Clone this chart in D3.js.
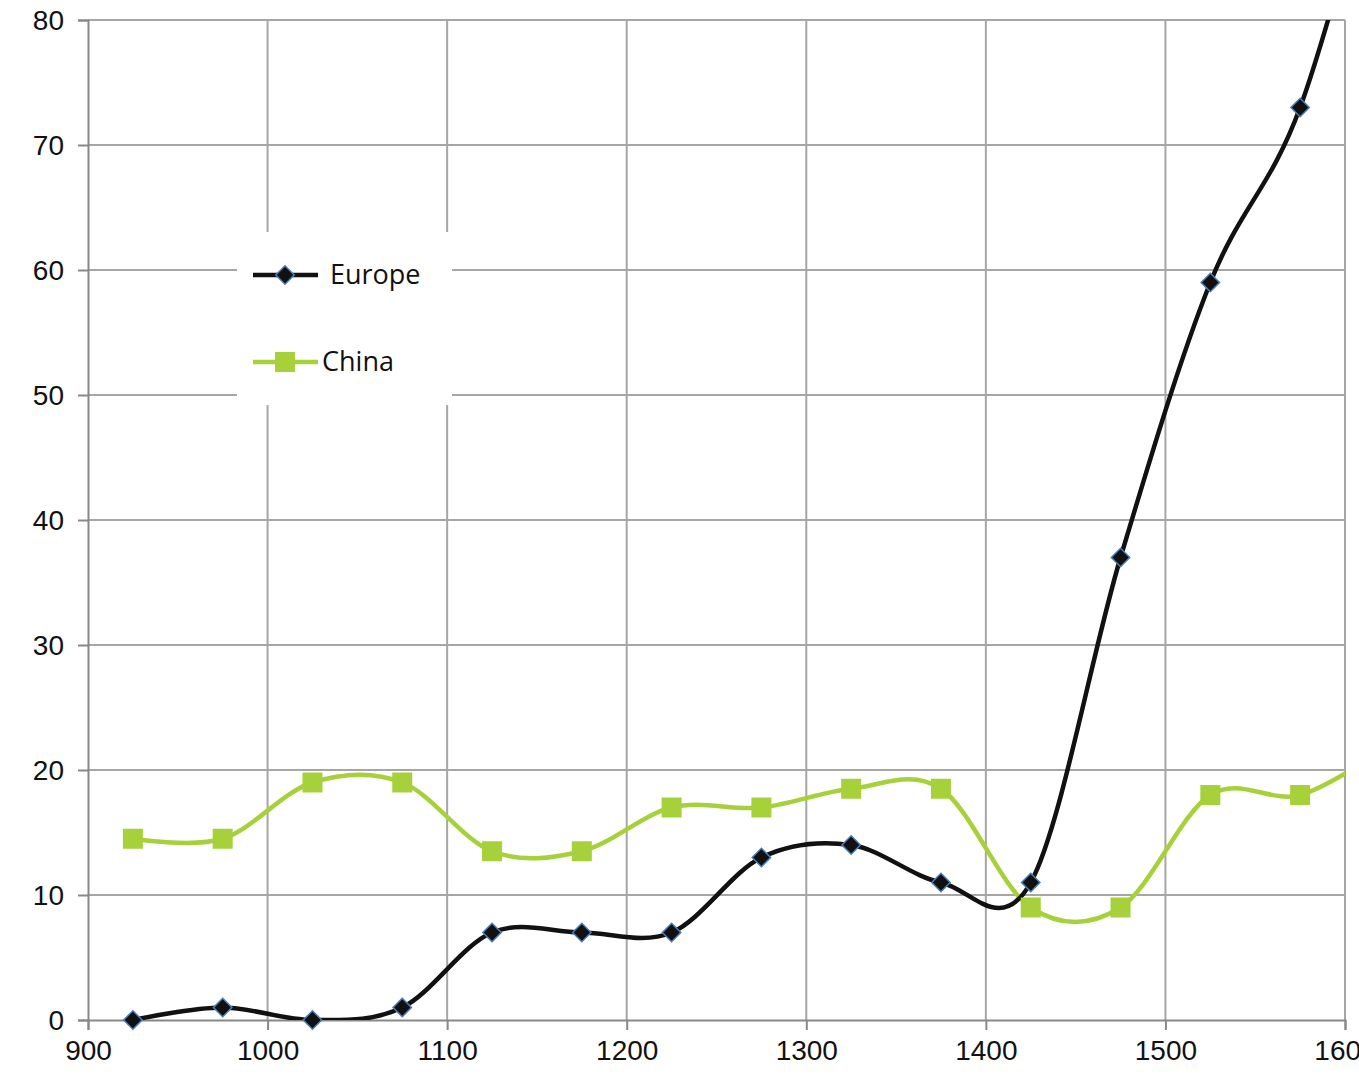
<!DOCTYPE html>
<html><head><meta charset="utf-8">
<script src="https://cdn.jsdelivr.net/npm/d3@7"></script>
<style>body{margin:0;background:#fff}</style>
</head><body>
<svg id="c" width="1359" height="1089"></svg>
<script>
// years sampled at half-century midpoints; last point lies past the visible axis
const years = [925, 975, 1025, 1075, 1125, 1175, 1225, 1275, 1325, 1375, 1425, 1475, 1525, 1575, 1625];
const europe = [0, 1, 0, 1, 7, 7, 7, 13, 14, 11, 11, 37, 59, 73, 98];
const china = [14.5, 14.5, 19, 19, 13.5, 13.5, 17, 17, 18.5, 18.5, 9, 9, 18, 18, 22];
const xTicks = [900, 1000, 1100, 1200, 1300, 1400, 1500, 1600];
const yTicks = [0, 10, 20, 30, 40, 50, 60, 70, 80];

const svg = d3.select("#c");
const x = d3.scaleLinear().domain([900, 1600]).range([88, 1345]);
const y = d3.scaleLinear().domain([0, 80]).range([1020, 20]);

svg.append("defs").append("clipPath").attr("id", "clip")
  .append("rect").attr("x", 88).attr("y", 20).attr("width", 1257).attr("height", 1000);

// grid
svg.selectAll(".gx").data(xTicks.slice(1)).enter().append("line")
  .attr("x1", d => x(d)).attr("x2", d => x(d)).attr("y1", 20).attr("y2", 1020)
  .attr("stroke", "#a6a6a6").attr("stroke-width", 2);
svg.selectAll(".gy").data(yTicks.slice(1)).enter().append("line")
  .attr("x1", 88).attr("x2", 1345).attr("y1", d => y(d)).attr("y2", d => y(d))
  .attr("stroke", "#a6a6a6").attr("stroke-width", 2);

const xa = svg.append("g").attr("transform", "translate(0,1020)")
  .call(d3.axisBottom(x).tickValues(xTicks).tickFormat(d3.format("d")).tickSize(10).tickPadding(10));
const ya = svg.append("g").attr("transform", "translate(88,0)")
  .call(d3.axisLeft(y).tickValues(yTicks).tickSize(10).tickPadding(14));
[xa, ya].forEach(a => {
  a.selectAll("path,line").attr("stroke", "#888").attr("stroke-width", 2);
  a.selectAll("text").attr("font-family", "Liberation Sans, Arial, sans-serif")
    .attr("font-size", 28).attr("fill", "#111");
});
ya.selectAll("text").attr("dy", "0.35em");

const line = d3.line().curve(d3.curveCatmullRom.alpha(0)).x((d, i) => x(years[i])).y(d => y(d));
const plot = svg.append("g").attr("clip-path", "url(#clip)");
plot.append("path").attr("d", line(china)).attr("fill", "none").attr("stroke", "#a6d13a").attr("stroke-width", 4.5);
plot.append("path").attr("d", line(europe)).attr("fill", "none").attr("stroke", "#111").attr("stroke-width", 4.5);

const sq = d3.symbol().type(d3.symbolSquare).size(400);
const di = d3.symbol().type(d3.symbolSquare).size(170);
const vis = (d, i) => years[i] <= 1600;
svg.selectAll(".cm").data(china).enter().filter(vis).append("path")
  .attr("d", sq).attr("transform", (d, i) => `translate(${x(years[i])},${y(d)})`)
  .attr("fill", "#a6d13a");
svg.selectAll(".em").data(europe).enter().filter(vis).append("path")
  .attr("d", di).attr("transform", (d, i) => `translate(${x(years[i])},${y(d)}) rotate(45)`)
  .attr("fill", "#111").attr("stroke", "#4a7ebb").attr("stroke-width", 1.5);

// legend
const lg = svg.append("g");
lg.append("rect").attr("x", 237).attr("y", 232).attr("width", 215).attr("height", 173).attr("fill", "#fff");
const items = [
  {name: "Europe", color: "#111", sym: di, rot: 45, ty: 275, tx: 330},
  {name: "China", color: "#a6d13a", sym: sq, rot: 0, ty: 362, tx: 322}
];
items.forEach(it => {
  lg.append("line").attr("x1", 253).attr("x2", 318).attr("y1", it.ty).attr("y2", it.ty)
    .attr("stroke", it.color).attr("stroke-width", 4.5);
  lg.append("path").attr("d", it.sym).attr("transform", `translate(285,${it.ty}) rotate(${it.rot})`)
    .attr("fill", it.color).attr("stroke", it.name === "Europe" ? "#4a7ebb" : "none").attr("stroke-width", 1.5);
  lg.append("text").attr("x", it.tx).attr("y", it.ty).attr("dy", "0.35em")
    .attr("font-family", "Open Sans, DejaVu Sans, sans-serif").attr("font-size", 27).attr("fill", "#111")
    .text(it.name);
});
</script>
</body></html>
